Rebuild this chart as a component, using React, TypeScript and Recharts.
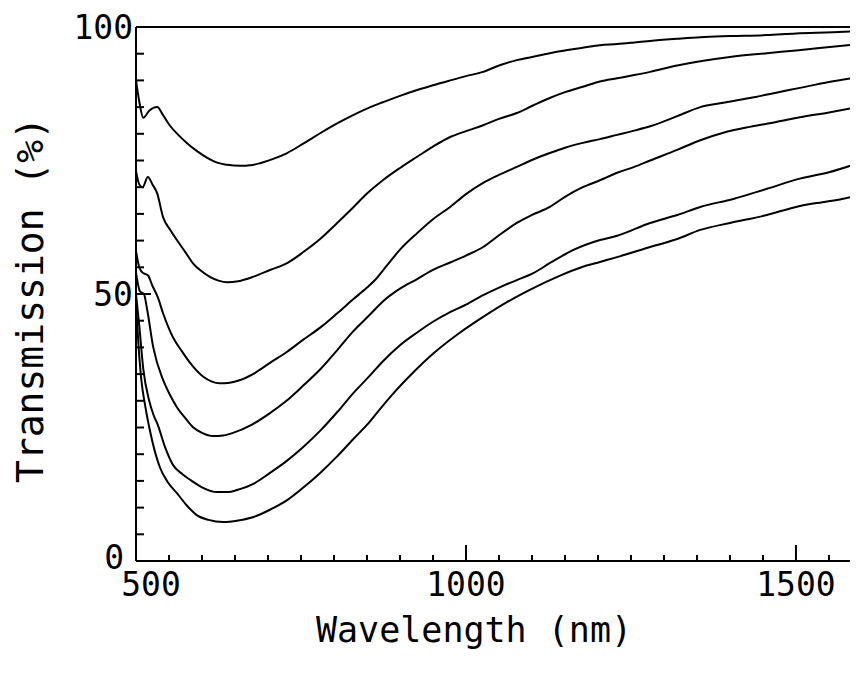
import { LineChart, Line, XAxis, YAxis, ReferenceLine } from "recharts";

// transmission curves, [wavelength nm, transmission %]
const curve1 = [
  [500, 90], [505, 86], [511, 83], [520, 84.3], [532, 85], [541, 83.5], [551, 81.6], [564, 79.8],
  [577, 78.3], [592, 76.8], [608, 75.5], [623, 74.6], [638, 74.2], [658, 74], [673, 74.1], [688, 74.5],
  [708, 75.3], [729, 76.4], [754, 78.2], [779, 80.1], [804, 81.9], [829, 83.5], [855, 85], [874, 85.9],
  [900, 87.1], [926, 88.2], [950, 89.1], [976, 90], [1000, 90.8], [1026, 91.6], [1050, 92.8], [1077, 93.8],
  [1100, 94.4], [1127, 95.1], [1150, 95.6], [1177, 96.1], [1203, 96.6], [1229, 96.8], [1255, 97.1],
  [1279, 97.4], [1320, 97.8], [1355, 98.1], [1400, 98.3], [1456, 98.5], [1500, 98.8], [1556, 99], [1594, 99.2],
];
const curve2 = [
  [500, 73], [505, 70.5], [510, 70], [518, 71.9], [525, 70.5], [532, 68.9], [541, 64.4], [552, 62],
  [562, 60.1], [575, 57.8], [586, 55.8], [600, 54.2], [612, 53.2], [625, 52.5], [638, 52.2], [655, 52.4],
  [677, 53.2], [703, 54.5], [729, 55.8], [754, 57.9], [779, 60.3], [804, 63.2], [829, 66.2], [850, 68.8],
  [874, 71.3], [900, 73.6], [926, 75.7], [950, 77.6], [976, 79.4], [1000, 80.5], [1026, 81.6], [1050, 82.8],
  [1077, 83.9], [1100, 85.2], [1127, 86.7], [1150, 87.8], [1177, 88.8], [1203, 89.8], [1229, 90.4],
  [1255, 91], [1279, 91.6], [1320, 92.8], [1355, 93.6], [1400, 94.4], [1456, 95.1], [1500, 95.6],
  [1532, 96], [1594, 96.8],
];
const curve3 = [
  [500, 58], [505, 55], [510, 54], [518, 53.5], [525, 51.5], [533, 49.4], [541, 46.4], [556, 41.9],
  [570, 39.2], [582, 37.1], [602, 34.5], [615, 33.6], [627, 33.3], [642, 33.4], [658, 33.9], [680, 35.2],
  [703, 37.1], [728, 39.1], [753, 41.4], [780, 43.8], [805, 46.4], [829, 49], [850, 51.2], [865, 53],
  [880, 55.3], [900, 58.3], [926, 61.4], [950, 64], [976, 66.3], [1000, 68.7], [1026, 70.8], [1050, 72.3],
  [1077, 73.8], [1100, 75.1], [1127, 76.4], [1150, 77.4], [1177, 78.3], [1203, 79], [1229, 79.8],
  [1255, 80.6], [1279, 81.4], [1320, 83.3], [1355, 85], [1390, 85.8], [1430, 86.7], [1470, 87.7],
  [1506, 88.6], [1550, 89.7], [1594, 90.6],
];
const curve4 = [
  [500, 54], [506, 50.5], [512, 50], [517, 47], [526, 40.1], [541, 33.9], [552, 31], [562, 28.8],
  [575, 26.7], [586, 25.1], [600, 24], [617, 23.4], [632, 23.5], [647, 24], [675, 25.5], [703, 27.7],
  [728, 30], [753, 32.8], [780, 36], [805, 39.5], [829, 43], [855, 46.2], [874, 48.6], [900, 51],
  [926, 52.8], [950, 54.5], [976, 55.9], [1000, 57.2], [1026, 58.8], [1050, 61], [1077, 63.3],
  [1100, 64.8], [1127, 66.3], [1150, 68.2], [1177, 70], [1203, 71.3], [1229, 72.7], [1255, 73.8],
  [1279, 75], [1320, 77], [1355, 78.8], [1390, 80.2], [1430, 81.3], [1470, 82.2], [1506, 83.1],
  [1550, 84], [1594, 85],
];
const curve5 = [
  [500, 50], [505, 44], [511, 36], [520, 30], [527, 27.2], [532, 25.8], [545, 21], [556, 18], [570, 16.3],
  [582, 15.2], [600, 13.8], [623, 12.9], [640, 12.9], [653, 13.3], [680, 14.6], [703, 16.5], [728, 18.7],
  [753, 21.3], [780, 24.5], [805, 27.9], [829, 31.4], [855, 34.8], [875, 37.5], [900, 40.4], [925, 42.7],
  [950, 44.8], [976, 46.6], [1000, 48], [1026, 49.8], [1052, 51.3], [1077, 52.6], [1102, 53.9],
  [1130, 56], [1162, 58.2], [1203, 60.1], [1229, 60.9], [1279, 63.3], [1320, 64.8], [1355, 66.3],
  [1405, 67.8], [1456, 69.7], [1506, 71.6], [1550, 72.8], [1594, 74.5],
];
const curve6 = [
  [500, 48], [504, 40], [508, 34], [514, 29], [521, 24.5], [536, 17.6], [548, 14.8], [562, 12.7],
  [577, 10.4], [592, 8.6], [610, 7.7], [632, 7.3], [655, 7.6], [677, 8.2], [703, 9.6], [729, 11.4],
  [754, 13.8], [779, 16.5], [804, 19.5], [829, 22.8], [855, 26.2], [870, 28.5], [890, 31.4], [920, 35.3],
  [950, 38.8], [988, 42.5], [1026, 45.7], [1064, 48.6], [1102, 51.1], [1140, 53.3], [1177, 55.1],
  [1203, 56], [1229, 56.9], [1279, 58.8], [1320, 60.3], [1355, 62], [1400, 63.3], [1456, 64.8],
  [1500, 66.3], [1540, 67.2], [1570, 67.8], [1594, 68.5],
];

const xTicks = [500, 550, 600, 650, 700, 750, 800, 850, 900, 950, 1000, 1050, 1100, 1150, 1200, 1250, 1300, 1350, 1400, 1450, 1500, 1550];
const yTicks = [0, 5, 10, 15, 20, 25, 30, 35, 40, 45, 50, 55, 60, 65, 70, 75, 80, 85, 90, 95, 100];

const curves = [curve1, curve2, curve3, curve4, curve5, curve6];
const FONT = "'DejaVu Sans Mono', monospace";

const toRows = (pts: number[][]) => pts.map(([nm, t]) => ({ nm, t }));

// ticks point into the plot, labels only on majors
function XTick(props: any) {
  const { x, y, payload } = props;
  const v = payload.value;
  const major = v % 500 === 0;
  return (
    <g>
      <line x1={x} y1={y} x2={x} y2={y - (major ? 16 : 6)} stroke="#000" strokeWidth={2} />
      {major && (
        <text x={x + (v === 500 ? 15 : 0)} y={y + 35} textAnchor="middle" fontFamily={FONT} fontSize={33} fill="#000">
          {v}
        </text>
      )}
    </g>
  );
}

function YTick(props: any) {
  const { x, y, payload } = props;
  const v = payload.value;
  const major = v % 50 === 0;
  // the 0 label is nudged so it clears the 500 below it
  const tx = v === 0 ? x - 12 : x - 3;
  const ty = v === 0 ? y - 4 : y;
  return (
    <g>
      <line x1={x} y1={y} x2={x + (major ? 15 : 8)} y2={y} stroke="#000" strokeWidth={2} />
      {major && (
        <text x={tx} y={ty} textAnchor="end" dominantBaseline="central" fontFamily={FONT} fontSize={33} fill="#000">
          {v}
        </text>
      )}
    </g>
  );
}

export default function App() {
  return (
    <LineChart width={850} height={660} margin={{ top: 19, right: 0, bottom: 0, left: 0 }}>
      <XAxis
        type="number"
        dataKey="nm"
        domain={[500, 1594]}
        ticks={xTicks}
        interval={0}
        height={107}
        tickSize={0}
        tickMargin={0}
        tick={<XTick />}
        axisLine={{ stroke: "#000", strokeWidth: 2 }}
        label={{
          content: () => (
            <text x={466} y={634} textAnchor="middle" fontFamily={FONT} fontSize={35} fill="#000">
              Wavelength (nm)
            </text>
          ),
        }}
      />
      <YAxis
        type="number"
        domain={[0, 100]}
        ticks={yTicks}
        interval={0}
        width={128}
        tickSize={0}
        tickMargin={0}
        tick={<YTick />}
        axisLine={{ stroke: "#000", strokeWidth: 2 }}
        label={{
          content: () => (
            <text x={35} y={292} transform="rotate(-90 35 292)" textAnchor="middle" fontFamily={FONT} fontSize={38} fill="#000">
              Transmission (%)
            </text>
          ),
        }}
      />
      <ReferenceLine y={100} stroke="#000" strokeWidth={2} />
      {curves.map((c, i) => (
        <Line
          key={i}
          data={toRows(c)}
          dataKey="t"
          type="monotone"
          stroke="#000"
          strokeWidth={2}
          dot={false}
          isAnimationActive={false}
        />
      ))}
    </LineChart>
  );
}
